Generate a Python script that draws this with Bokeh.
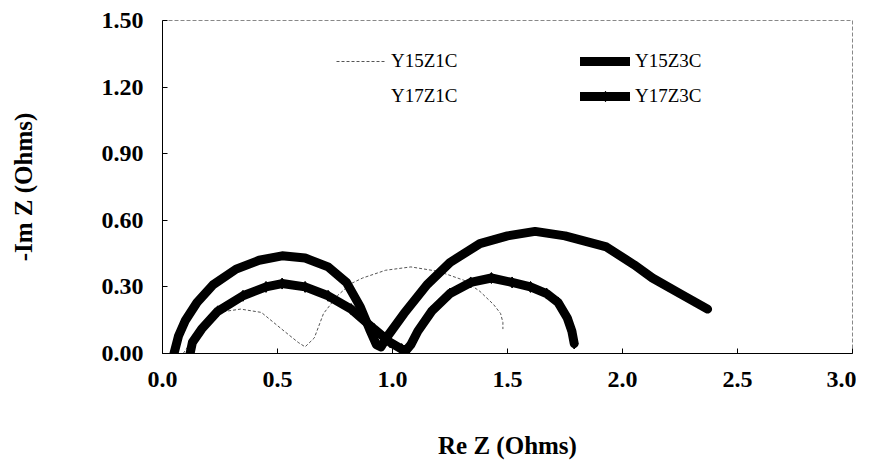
from bokeh.plotting import figure
from bokeh.models import Legend, LegendItem, FixedTicker
from bokeh.embed import file_html
from bokeh.resources import INLINE

# ---- data ----
y15z1c_x = [0.09, 0.11, 0.13, 0.17, 0.24, 0.34, 0.43, 0.53, 0.59, 0.62, 0.66, 0.70, 0.76, 0.82, 0.87, 0.97, 1.08, 1.20, 1.31, 1.38, 1.44, 1.47, 1.48, 1.48]
y15z1c_y = [0.00, 0.03, 0.07, 0.13, 0.185, 0.20, 0.185, 0.10, 0.05, 0.03, 0.07, 0.18, 0.26, 0.315, 0.34, 0.375, 0.39, 0.37, 0.33, 0.28, 0.22, 0.18, 0.14, 0.11]

y15z3c_x = [0.05, 0.07, 0.10, 0.15, 0.22, 0.32, 0.42, 0.52, 0.62, 0.72, 0.80, 0.86, 0.90, 0.93, 0.95, 0.98, 1.05, 1.15, 1.25, 1.38, 1.50, 1.62, 1.75, 1.93, 2.05, 2.13, 2.25, 2.37]
y15z3c_y = [0.00, 0.08, 0.15, 0.23, 0.31, 0.38, 0.42, 0.44, 0.43, 0.39, 0.32, 0.21, 0.11, 0.04, 0.03, 0.08, 0.18, 0.31, 0.41, 0.495, 0.53, 0.55, 0.53, 0.48, 0.40, 0.34, 0.27, 0.20]

y17z1c_x = []
y17z1c_y = []

y17z3c_x = [0.12, 0.13, 0.17, 0.24, 0.35, 0.45, 0.52, 0.62, 0.72, 0.82, 0.92, 0.99, 1.04, 1.06, 1.08, 1.11, 1.17, 1.25, 1.34, 1.43, 1.52, 1.60, 1.67, 1.72, 1.76, 1.78, 1.79]
y17z3c_y = [0.00, 0.05, 0.11, 0.19, 0.26, 0.30, 0.315, 0.30, 0.26, 0.20, 0.11, 0.05, 0.02, 0.015, 0.04, 0.10, 0.19, 0.27, 0.32, 0.34, 0.32, 0.30, 0.27, 0.23, 0.16, 0.10, 0.045]

x_ticks = [0.0, 0.5, 1.0, 1.5, 2.0, 2.5, 3.0]
y_ticks = [0.0, 0.3, 0.6, 0.9, 1.2, 1.5]

FONT = "Liberation Serif"

p = figure(width=856, height=452, frame_width=690, frame_height=333,
           min_border_left=162, min_border_right=4, min_border_top=20, min_border_bottom=99,
           x_range=(0, 3.0), y_range=(0, 1.5),
           output_backend="svg", toolbar_location=None)
p.background_fill_color = "white"
p.border_fill_color = "white"
p.outline_line_color = "#888888"
p.outline_line_dash = "4 2"
p.outline_line_width = 1
p.xgrid.visible = False
p.ygrid.visible = False

r1 = p.line(y15z1c_x, y15z1c_y, line_color="#555555", line_width=1, line_dash="3 2")
r2 = p.line(y15z3c_x, y15z3c_y, line_color="black", line_width=9, line_join="round", line_cap="round")
r3 = p.line(y17z1c_x, y17z1c_y, line_color="black", line_width=1, line_alpha=0)
r4 = p.line(y17z3c_x, y17z3c_y, line_color="black", line_width=9, line_join="round", line_cap="round")
r4m = p.scatter(y17z3c_x, y17z3c_y, marker="diamond", size=11, fill_color="black", line_color="black")

# axes
for ax in (p.xaxis[0], p.yaxis[0]):
    ax.axis_line_color = "black"
    ax.axis_line_width = 1
    ax.major_tick_in = 5
    ax.major_tick_out = 0
    ax.minor_tick_in = 0
    ax.minor_tick_out = 0
    ax.major_label_text_font = FONT
    ax.major_label_text_font_style = "bold"
    ax.major_label_text_font_size = "24px"
    ax.major_label_text_color = "black"
    ax.axis_label_text_font = FONT
    ax.axis_label_text_font_style = "bold"
    ax.axis_label_text_font_size = "25px"
    ax.axis_label_text_color = "black"

p.xaxis.ticker = FixedTicker(ticks=x_ticks)
p.yaxis.ticker = FixedTicker(ticks=y_ticks)
p.xaxis.major_label_overrides = {t: f"{t:.1f}" for t in x_ticks}
p.yaxis.major_label_overrides = {t: f"{t:.2f}" for t in y_ticks}
p.xaxis.axis_label = "Re Z (Ohms)"
p.yaxis.axis_label = "-Im Z (Ohms)"
p.xaxis.major_label_standoff = 18
p.yaxis.major_label_standoff = 19
p.xaxis.axis_label_standoff = 42
p.yaxis.axis_label_standoff = 62

legend = Legend(items=[
    LegendItem(label="Y15Z1C", renderers=[r1]),
    LegendItem(label="Y15Z3C", renderers=[r2]),
    LegendItem(label="Y17Z1C", renderers=[r3]),
    LegendItem(label="Y17Z3C", renderers=[r4, r4m]),
], orientation="horizontal", ncols=2, location=(174, 244))
legend.label_text_font = FONT
legend.label_text_font_size = "19px"
legend.label_text_color = "black"
legend.glyph_width = 50
legend.glyph_height = 26
legend.label_height = 26
legend.label_width = 180
legend.label_standoff = 5
legend.spacing = 9
legend.padding = 0
legend.margin = 0
legend.border_line_color = None
legend.background_fill_alpha = 0
p.add_layout(legend, "center")

open("out.html", "w").write(file_html(p, INLINE))
